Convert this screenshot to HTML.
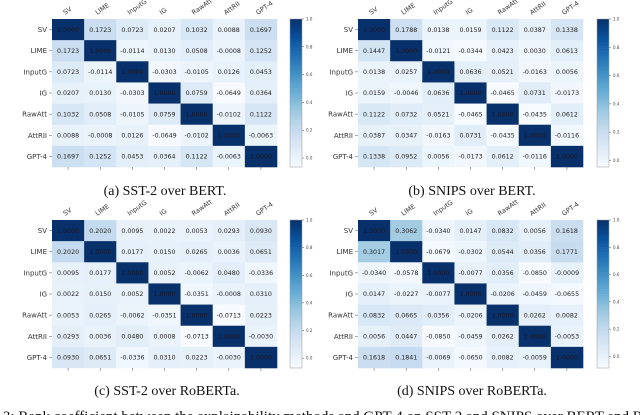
<!DOCTYPE html>
<html><head><meta charset="utf-8"><style>
html,body{margin:0;padding:0;background:#fff;overflow:hidden}
svg{display:block}
</style></head><body>
<svg id="fig" width="640" height="415" viewBox="0 0 640 415" xmlns="http://www.w3.org/2000/svg"></svg>
<script>
const labels = ["SV","LIME","InputG","IG","RawAtt","AttRII","GPT-4"];
const matA = [
[1,.1723,.0723,.0207,.1032,.0088,.1697],
[.1723,1,-.0114,.0130,.0508,-.0008,.1252],
[.0723,-.0114,1,-.0303,-.0105,.0126,.0453],
[.0207,.0130,-.0303,1,.0759,-.0649,.0364],
[.1032,.0508,-.0105,.0759,1,-.0102,.1122],
[.0088,-.0008,.0126,-.0649,-.0102,1,-.0063],
[.1697,.1252,.0453,.0364,.1122,-.0063,1]];
const matB = [
[1,.1788,.0138,.0159,.1122,.0387,.1338],
[.1447,1,-.0121,-.0344,.0423,.0030,.0613],
[.0138,.0257,1,.0636,.0521,-.0163,.0056],
[.0159,-.0046,.0636,1,-.0465,.0731,-.0173],
[.1122,.0732,.0521,-.0465,1,-.0435,.0612],
[.0387,.0347,-.0163,.0731,-.0435,1,-.0116],
[.1338,.0952,.0056,-.0173,.0612,-.0116,1]];
const matC = [
[1,.2020,.0095,.0022,.0053,.0293,.0930],
[.2020,1,.0177,.0150,.0265,.0036,.0651],
[.0095,.0177,1,.0052,-.0062,.0480,-.0336],
[.0022,.0150,.0052,1,-.0351,-.0008,.0310],
[.0053,.0265,-.0062,-.0351,1,-.0713,.0223],
[.0293,.0036,.0480,.0008,-.0713,1,-.0030],
[.0930,.0651,-.0336,.0310,.0223,-.0030,1]];
const matD = [
[1,.3062,-.0340,.0147,.0832,.0056,.1618],
[.3017,1,-.0679,-.0302,.0544,.0356,.1771],
[-.0340,-.0578,1,-.0077,.0356,-.0850,-.0009],
[.0147,-.0227,-.0077,1,-.0206,-.0459,-.0655],
[.0832,.0665,.0356,-.0206,1,.0262,.0082],
[.0056,.0447,-.0850,-.0459,.0262,1,-.0053],
[.1618,.1841,-.0069,-.0650,.0082,-.0059,1]];
const cbTicks = [0.0,0.2,0.4,0.6,0.8,1.0];
const captions = ["(a) SST-2 over BERT.","(b) SNIPS over BERT.","(c) SST-2 over RoBERTa.","(d) SNIPS over RoBERTa."];

const NS="http://www.w3.org/2000/svg";
const svg=document.getElementById('fig');
function mk(tag,attrs,parent){const e=document.createElementNS(NS,tag);for(const k in attrs)e.setAttribute(k,attrs[k]);(parent||svg).appendChild(e);return e;}
const stops=[[247,251,255],[222,235,247],[198,219,239],[158,202,225],[107,174,214],[66,146,198],[33,113,181],[8,81,156],[8,48,107]];
function blues(t){t=Math.max(0,Math.min(1,t));const p=t*8,i=Math.min(7,Math.floor(p)),f=p-i;const a=stops[i],b=stops[i+1];
return `rgb(${Math.round(a[0]+(b[0]-a[0])*f)},${Math.round(a[1]+(b[1]-a[1])*f)},${Math.round(a[2]+(b[2]-a[2])*f)})`;}

const panels=[
{m:matA,x0:52,x1:277,y0:19,y1:167,cbx:290,cap:165,capy:195},
{m:matB,x0:358,x1:583,y0:19,y1:167,cbx:597,cap:472,capy:195},
{m:matC,x0:52,x1:277,y0:220,y1:368,cbx:290,cap:167,capy:395},
{m:matD,x0:358,x1:583,y0:220,y1:368,cbx:597,cap:472,capy:395}];

panels.forEach((P,pi)=>{
  const g=mk('g',{});
  
  
  const n=labels.length, cw=(P.x1-P.x0)/n, ch=(P.y1-P.y0)/n;
  let vmin=Math.min(...P.m.flat());
  const col=v=>blues((v-vmin)/(1-vmin));
  const xs=j=>P.x0+j*cw, ys=i=>P.y0+i*ch;
  P.m.forEach((row,i)=>row.forEach((v,j)=>{
    const r=mk('rect',{x:xs(j),y:ys(i),width:cw+0.3,height:ch+0.3,fill:col(v)},g);
    
    
    const t=mk('text',{x:xs(j)+cw/2,y:ys(i)+ch/2+2.2,'text-anchor':'middle','font-size':'6.3','font-family':'DejaVu Sans, sans-serif',fill:v>0.6?'#1a1a2a':'#222'},g);
    t.textContent=v.toFixed(4);
  }));
  labels.forEach((l,i)=>{
    const t=mk('text',{x:P.x0-5,y:ys(i)+ch/2+2.5,'text-anchor':'end','font-size':'7','font-family':'DejaVu Sans, sans-serif',fill:'#333'},g);
    
    
    t.textContent=l;
    mk('line',{x1:P.x0-3,x2:P.x0,y1:ys(i)+ch/2,y2:ys(i)+ch/2,stroke:'#555','stroke-width':0.5},g);
    const cx=xs(i)+cw/2;
    const c=mk('text',{x:0,y:0,'text-anchor':'start','font-size':'6.5','font-family':'DejaVu Sans, sans-serif',fill:'#333',transform:`translate(${cx-3},${P.y0-4}) rotate(-35)`},g);
    
    
    c.textContent=l;
    mk('line',{x1:cx,x2:cx,y1:P.y1,y2:P.y1+3,stroke:'#555','stroke-width':0.5},g);
  });
  const cb=mk('g',{},g);
  
  
  const H=P.y1-P.y0, steps=60;
  for(let k=0;k<steps;k++){
    const v=1-(1-vmin)*(k+0.5)/steps;
    mk('rect',{x:P.cbx,y:P.y0+k*H/steps,width:12,height:H/steps+0.3,fill:col(v)},cb);
  }
  mk('rect',{x:P.cbx,y:P.y0,width:12,height:H,fill:'none',stroke:'#999','stroke-width':0.5},cb);
  cbTicks.forEach(tv=>{
    const y=P.y0+(1-tv)/(1-vmin)*H;
    mk('line',{x1:P.cbx+12,x2:P.cbx+14,y1:y,y2:y,stroke:'#555','stroke-width':0.5},cb);
    const t=mk('text',{x:P.cbx+16,y:y+1.5,'font-size':'4','font-family':'DejaVu Sans, sans-serif',fill:'#444'},cb);
    t.textContent=tv.toFixed(1);
  });
  const cap=mk('text',{x:P.cap,y:P.capy,'text-anchor':'middle','font-size':'14','font-family':'Liberation Serif, serif',fill:'#111'},g);
  
  
  cap.textContent=captions[pi];
});
const fc=mk('text',{x:-40,y:421,'font-size':'15','font-family':'Liberation Serif, serif',fill:'#111'});


fc.textContent="Figure 3: Rank coefficient between the explainability methods and GPT-4 on SST-2 and SNIPS over BERT and RoBERTa.";
</script>
</body></html>
